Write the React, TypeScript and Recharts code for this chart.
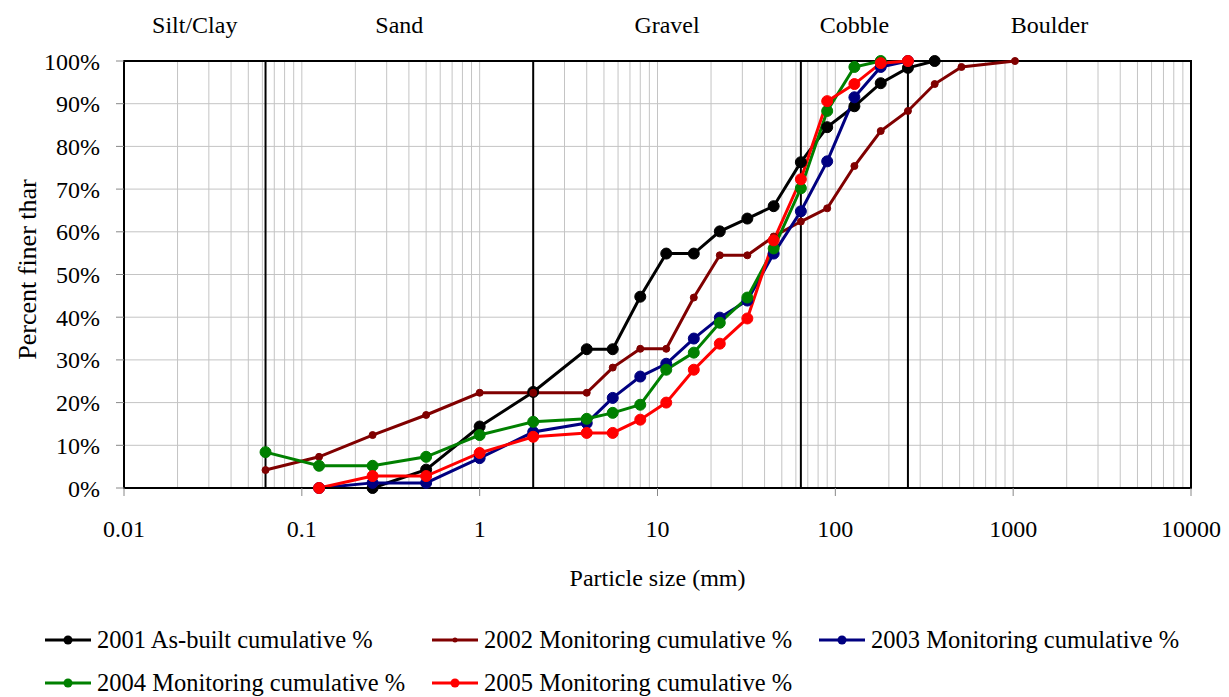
import React from "react";
import {
  CartesianGrid,
  Line,
  LineChart,
  ReferenceArea,
  ReferenceLine,
  XAxis,
  YAxis,
} from "recharts";

/* ── Data ──────────────────────────────────────────────────── */
const sizes2001 = [0.25, 0.5, 1, 2, 4, 5.6, 8, 11.2, 16, 22.4, 32, 45, 64, 90, 128, 180, 256, 362];
const pct2001 = [0, 4.3, 14.4, 22.5, 32.5, 32.5, 44.8, 54.9, 54.9, 60.1, 63.1, 66, 76.3, 84.5, 89.4, 94.8, 98.4, 100];

const sizes2002 = [0.0625, 0.125, 0.25, 0.5, 1, 2, 4, 5.6, 8, 11.2, 16, 22.4, 32, 45, 64, 90, 128, 180, 256, 362, 512, 1024];
const pct2002 = [4.2, 7.3, 12.4, 17.1, 22.3, 22.3, 22.3, 28.2, 32.6, 32.6, 44.6, 54.5, 54.5, 58.9, 62.4, 65.5, 75.4, 83.6, 88.3, 94.6, 98.6, 100];

const sizes2003 = [0.125, 0.25, 0.5, 1, 2, 4, 5.6, 8, 11.2, 16, 22.4, 32, 45, 64, 90, 128, 180, 256];
const pct2003 = [0, 1.2, 1.2, 7, 13.1, 15.2, 21.1, 26.1, 29.1, 35, 39.9, 43.9, 54.9, 64.8, 76.5, 91.5, 98.6, 100];

const sizes2004 = [0.0625, 0.125, 0.25, 0.5, 1, 2, 4, 5.6, 8, 11.2, 16, 22.4, 32, 45, 64, 90, 128, 180];
const pct2004 = [8.4, 5.2, 5.2, 7.3, 12.4, 15.5, 16.2, 17.6, 19.5, 27.7, 31.7, 38.7, 44.6, 56.1, 70.2, 88.3, 98.6, 100];

const sizes2005 = [0.125, 0.25, 0.5, 1, 2, 4, 5.6, 8, 11.2, 16, 22.4, 32, 45, 64, 90, 128, 180, 256];
const pct2005 = [0, 2.8, 2.8, 8.2, 12, 12.9, 12.9, 16, 20, 27.7, 33.8, 39.7, 58, 72.3, 90.6, 94.6, 99.5, 100];

const xTicks = [0.01, 0.1, 1, 10, 100, 1000, 10000];
const yTicks = [0, 10, 20, 30, 40, 50, 60, 70, 80, 90, 100];

// Wentworth class boundaries (mm) and zone names
const classBounds = [0.0625, 2, 64, 256];
const zones = [
  { name: "Silt/Clay", from: 0.01, to: 0.0625 },
  { name: "Sand", from: 0.0625, to: 2 },
  { name: "Gravel", from: 2, to: 64 },
  { name: "Cobble", from: 64, to: 256 },
  { name: "Boulder", from: 256, to: 10000 },
];

const zip = (xs: number[], ys: number[]) => xs.map((size, i) => ({ size, pct: ys[i] }));

const series = [
  { name: "2001 As-built cumulative %", color: "#000000", r: 5.5, data: zip(sizes2001, pct2001) },
  { name: "2002 Monitoring cumulative %", color: "#800000", r: 3.5, data: zip(sizes2002, pct2002) },
  { name: "2003 Monitoring cumulative %", color: "#000080", r: 5.5, data: zip(sizes2003, pct2003) },
  { name: "2004 Monitoring cumulative %", color: "#008000", r: 5.5, data: zip(sizes2004, pct2004) },
  { name: "2005 Monitoring cumulative %", color: "#FF0000", r: 5.5, data: zip(sizes2005, pct2005) },
];

// log grid: 1..9 in every decade
const gridValues: number[] = [];
for (let d = 0.01; d < 10000; d *= 10) {
  for (let k = 1; k <= 9; k++) gridValues.push(+(d * k).toPrecision(3));
}
gridValues.push(10000);

const FONT = '"Liberation Serif", "Times New Roman", serif';
const W = 1229;
const H = 697;
const tick = { fontSize: 24, fill: "#000", fontFamily: FONT };

function ZoneLabel({ viewBox, value }: any) {
  if (!viewBox) return null;
  return (
    <text
      x={viewBox.x + viewBox.width / 2}
      y={33}
      textAnchor="middle"
      fontSize={24}
      fontFamily={FONT}
      fill="#000"
    >
      {value}
    </text>
  );
}

function Legend() {
  return (
    <div
      style={{
        position: "absolute",
        left: 45,
        top: 618,
        width: 1170,
        display: "flex",
        flexWrap: "wrap",
        fontFamily: FONT,
        fontSize: 24.5,
        lineHeight: "43px",
        color: "#000",
      }}
    >
      {series.map((s) => (
        <div key={s.name} style={{ width: 387, display: "flex", alignItems: "center", whiteSpace: "nowrap" }}>
          <svg width={46} height={14} style={{ marginRight: 6 }}>
            <line x1={0} y1={7} x2={46} y2={7} stroke={s.color} strokeWidth={3} />
            <circle cx={23} cy={7} r={s.r - 1} fill={s.color} />
          </svg>
          {s.name}
        </div>
      ))}
    </div>
  );
}

export default function App() {
  return (
    <div style={{ position: "absolute", left: 0, top: 0, width: W, height: H, background: "#fff" }}>
      <LineChart width={W} height={H} margin={{ top: 61, right: 38, left: 0, bottom: 0 }}>
        <CartesianGrid
          stroke="#c4c4c4"
          strokeWidth={1}
          verticalCoordinatesGenerator={({ offset }: any) =>
            gridValues.map((v) => offset.left + ((Math.log10(v) + 2) / 6) * offset.width)
          }
        />
        <XAxis
          dataKey="size"
          type="number"
          scale="log"
          domain={[0.01, 10000]}
          ticks={xTicks}
          allowDataOverflow
          height={209}
          tick={tick}
          tickFormatter={(v) => String(v)}
          tickSize={8}
          tickMargin={24}
          tickLine={{ stroke: "#888" }}
          axisLine={{ stroke: "#000", strokeWidth: 2 }}
          label={{
            content: ({ viewBox }: any) => (
              <text
                x={viewBox.x + viewBox.width / 2}
                y={586}
                textAnchor="middle"
                fontSize={24}
                fontFamily={FONT}
                fill="#000"
              >
                Particle size (mm)
              </text>
            ),
          }}
        />
        <YAxis
          type="number"
          domain={[0, 100]}
          ticks={yTicks}
          width={124}
          tick={tick}
          tickFormatter={(v) => `${v}%`}
          tickSize={8}
          tickMargin={16}
          tickLine={{ stroke: "#888" }}
          axisLine={{ stroke: "#000", strokeWidth: 2 }}
          label={{
            content: ({ viewBox }: any) => {
              const cx = 27;
              const cy = viewBox.y + viewBox.height / 2 - 5;
              return (
                <text
                  x={cx}
                  y={cy}
                  transform={`rotate(-90 ${cx} ${cy})`}
                  textAnchor="middle"
                  dominantBaseline="central"
                  fontSize={26}
                  fontFamily={FONT}
                  fill="#000"
                >
                  Percent finer thar
                </text>
              );
            },
          }}
        />
        {zones.map((z) => (
          <ReferenceArea
            key={z.name}
            x1={z.from}
            x2={z.to}
            y1={0}
            y2={100}
            fillOpacity={0}
            strokeOpacity={0}
            label={<ZoneLabel value={z.name} />}
          />
        ))}
        <ReferenceArea x1={0.01} x2={10000} y1={0} y2={100} fillOpacity={0} stroke="#000" strokeWidth={2} />
        {classBounds.map((b) => (
          <ReferenceLine key={b} x={b} stroke="#000" strokeWidth={2} />
        ))}
        {series.map((s) => (
          <Line
            key={s.name}
            data={s.data}
            dataKey="pct"
            name={s.name}
            stroke={s.color}
            strokeWidth={3}
            dot={{ r: s.r, fill: s.color, stroke: s.color, strokeWidth: 1 }}
            activeDot={false}
            isAnimationActive={false}
          />
        ))}
      </LineChart>
      <Legend />
    </div>
  );
}
